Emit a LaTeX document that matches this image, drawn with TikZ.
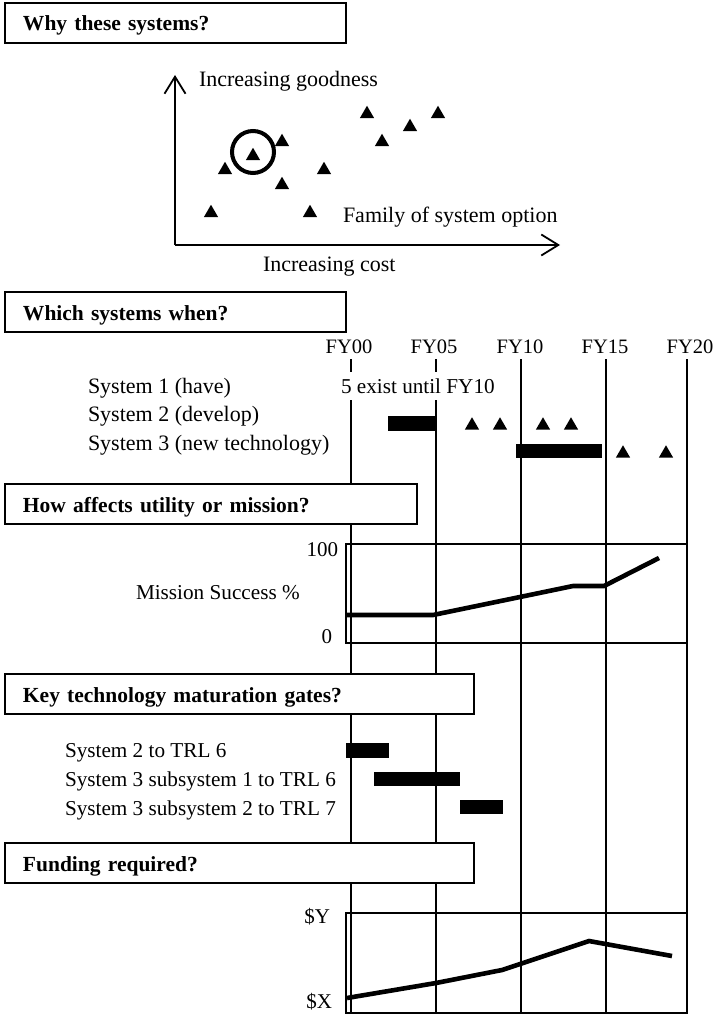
\documentclass[tikz,border=0pt]{standalone}
\usepackage{fontspec}
\setmainfont{Liberation Serif}
\usetikzlibrary{shapes.geometric,arrows.meta}
\begin{document}
\begin{tikzpicture}[x=1pt,y=-1pt,
  every node/.style={font=\fontsize{21.5}{24}\selectfont, inner sep=0pt, outer sep=0pt},
  lbl/.style={anchor=base west, font=\fontsize{22}{24}\selectfont},
  slbl/.style={anchor=base west, font=\fontsize{21.2}{24}\selectfont},
  rlbl/.style={anchor=base east, font=\fontsize{21}{24}\selectfont},
  fylbl/.style={anchor=base, font=\fontsize{20.5}{24}\selectfont},
  titlebox/.style={draw, line width=1.6pt, fill=white, anchor=north west,
    minimum height=40pt, inner xsep=18pt, text width=#1, align=left,
    text height=16pt, text depth=0pt,
    font=\fontsize{21.5}{24}\selectfont\bfseries},
  grid/.style={line width=1.6pt},
  axis/.style={line width=1.8pt, -{Straight Barb[length=17pt,width=21pt]}},
  chartbox/.style={draw, line width=2pt, anchor=north west, minimum height=#1},
  curve/.style={line width=4.6pt},
  tri/.style={regular polygon, regular polygon sides=3, fill=black, draw=none,
    inner sep=0pt, minimum size=16.5pt},
  bar/.style={fill=black}
]
\useasboundingbox (0,0) rectangle (715,1014);

% ---------- Section 1 ----------
\node[titlebox=305pt] (t1) at (5,3) {Why these systems?};

\coordinate (origin) at (175,245);
\coordinate (ytop) at (175,75);
\coordinate (xend) at (560,245);
\draw[axis] (origin) -- (ytop);
\draw[axis] (origin) -- (xend);
\node[lbl] (ylab) at (199,87) {Increasing goodness};
\node[lbl] (fam) at (343,222) {Family of system option};
\node[lbl] (xlab) at (263,271) {Increasing cost};

\node[tri] (s1) at (367,114) {};
\node[tri] (s2) at (438,114) {};
\node[tri] (s3) at (410,127) {};
\node[tri] (s4) at (382,142) {};
\node[tri] (s5) at (282,142) {};
\node[tri] (s6) at (253,156) {};
\node[tri] (s7) at (225,170) {};
\node[tri] (s8) at (324,170) {};
\node[tri] (s9) at (282,185) {};
\node[tri] (s10) at (211,213) {};
\node[tri] (s11) at (310,213) {};
\node[draw, circle, line width=4pt, minimum size=42pt] (sel) at (253,152) {};

% ---------- Grid lines ----------
\coordinate (g0a) at (351,359); \coordinate (g0b) at (351,372);
\coordinate (g0c) at (351,400); \coordinate (g0d) at (351,1013);
\coordinate (g5a) at (436,359); \coordinate (g5b) at (436,372);
\coordinate (g5c) at (436,400); \coordinate (g5d) at (436,1013);
\coordinate (g10a) at (521,359); \coordinate (g10d) at (521,1013);
\coordinate (g15a) at (606,359); \coordinate (g15d) at (606,1013);
\coordinate (g20a) at (687,359); \coordinate (g20d) at (687,1013);
\draw[grid] (g0a) -- (g0b) (g0c) -- (g0d);
\draw[grid] (g5a) -- (g5b) (g5c) -- (g5d);
\draw[grid] (g10a) -- (g10d);
\draw[grid] (g15a) -- (g15d);
\draw[grid] (g20a) -- (g20d);

% ---------- Section 2 ----------
\node[titlebox=305pt] (t2) at (5,292) {Which systems when?};
\node[fylbl] (fy00) at (349,353) {FY00};
\node[fylbl] (fy05) at (434,353) {FY05};
\node[fylbl] (fy10) at (520,353) {FY10};
\node[fylbl] (fy15) at (605,353) {FY15};
\node[fylbl] (fy20) at (690,353) {FY20};

\node[lbl] (sys1) at (88,393) {System 1 (have)};
\node[lbl] (sys2) at (88,421) {System 2 (develop)};
\node[lbl] (sys3) at (88,450) {System 3 (new technology)};
\node[slbl] (exist) at (341,393) {5 exist until FY10};

\fill[bar] (388,416) rectangle (437,431);
\node[tri] (d1) at (472,425.5) {};
\node[tri] (d2) at (500,425.5) {};
\node[tri] (d3) at (543,425.5) {};
\node[tri] (d4) at (571,425.5) {};
\fill[bar] (516,444) rectangle (602,458);
\node[tri] (n1) at (623,453.5) {};
\node[tri] (n2) at (666,453.5) {};

% ---------- Section 3 ----------
\node[titlebox=376pt] (t3) at (5,484) {How affects utility or mission?};
\node[chartbox=99pt, minimum width=341pt] (mbox) at (346,544) {};
\node[rlbl] (m100) at (338,556) {100};
\node[rlbl] (m0) at (332,643) {0};
\node[slbl] (mlab) at (136,599) {Mission Success \%};
\draw[curve] (347,615) -- (433,615) -- (520,597) -- (573,586) -- (604,586) -- (659,558);

% ---------- Section 4 ----------
\node[titlebox=433pt] (t4) at (5,674) {Key technology maturation gates?};
\node[slbl] (k1) at (65,757) {System 2 to TRL 6};
\node[slbl] (k2) at (65,786) {System 3 subsystem 1 to TRL 6};
\node[slbl] (k3) at (65,815) {System 3 subsystem 2 to TRL 7};
\fill[bar] (346,743) rectangle (389,758);
\fill[bar] (374,772) rectangle (460,786);
\fill[bar] (460,800) rectangle (503,814);

% ---------- Section 5 ----------
\node[titlebox=433pt] (t5) at (5,843) {Funding required?};
\node[chartbox=100pt, minimum width=341pt] (fbox) at (346,913) {};
\node[rlbl] (fy) at (330,923) {\$Y};
\node[rlbl] (fx) at (332,1008) {\$X};
\draw[curve] (347,998) -- (436,983) -- (502,970) -- (589,941) -- (672,956);
\end{tikzpicture}
\end{document}
